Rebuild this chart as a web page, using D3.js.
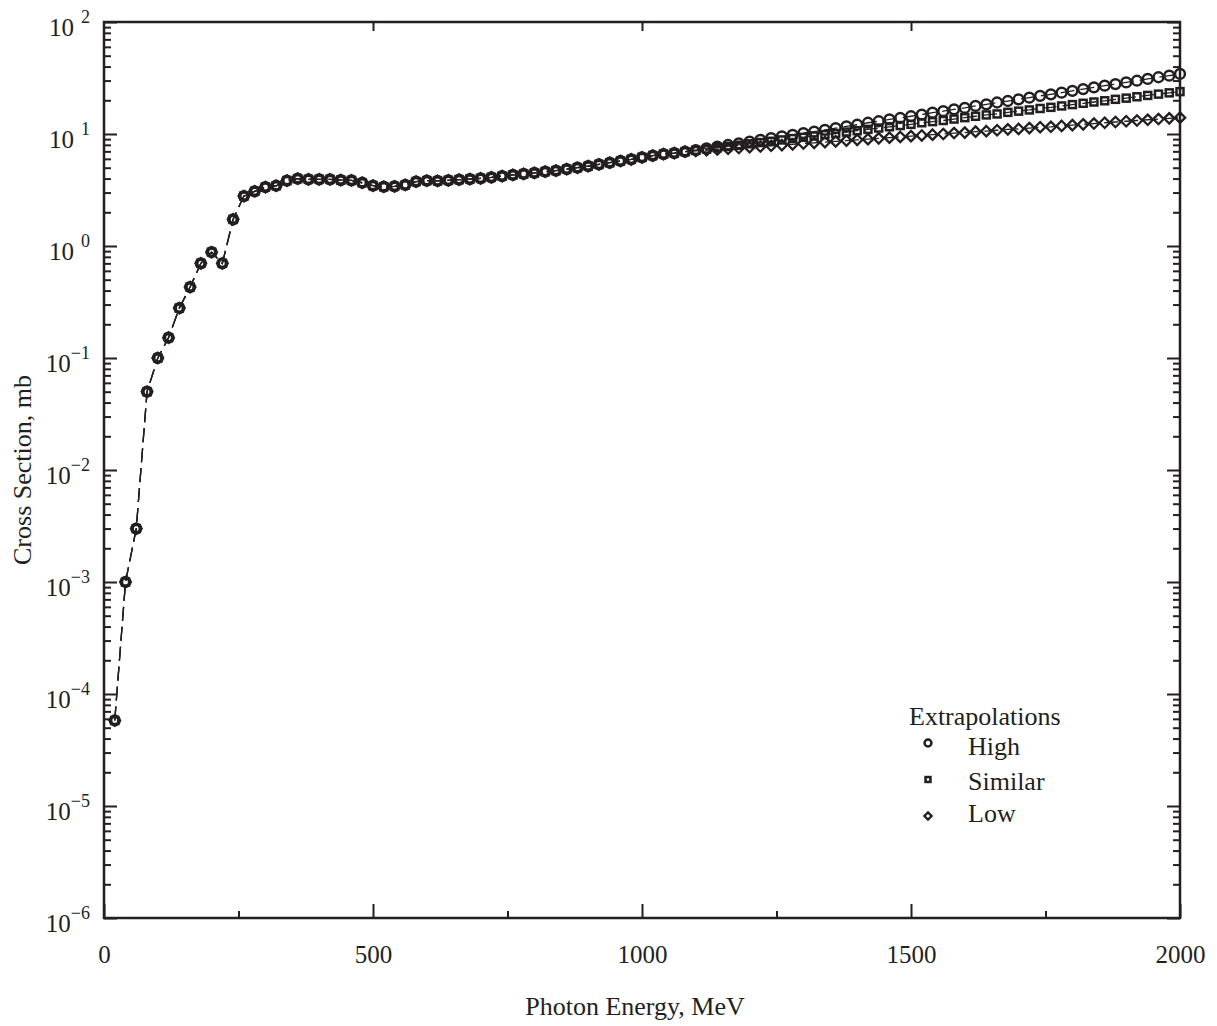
<!DOCTYPE html>
<html>
<head>
<meta charset="utf-8">
<script src="https://cdn.jsdelivr.net/npm/d3@7"></script>
<style>
  body { margin: 0; background: #fff; }
  svg { display: block; }
  svg text { font-family: "Liberation Serif", "Times New Roman", serif; }
  .tick line { stroke: #231f20; stroke-width: 2; }
</style>
</head>
<body>
<div id="chart"></div>
<script>
// photon energy grid, MeV
const energies = [
  20, 40, 60, 80, 100, 120, 140, 160, 180, 200,
  220, 240, 260, 280, 300, 320, 340, 360, 380, 400,
  420, 440, 460, 480, 500, 520, 540, 560, 580, 600,
  620, 640, 660, 680, 700, 720, 740, 760, 780, 800,
  820, 840, 860, 880, 900, 920, 940, 960, 980, 1000,
  1020, 1040, 1060, 1080, 1100, 1120, 1140, 1160, 1180, 1200,
  1220, 1240, 1260, 1280, 1300, 1320, 1340, 1360, 1380, 1400,
  1420, 1440, 1460, 1480, 1500, 1520, 1540, 1560, 1580, 1600,
  1620, 1640, 1660, 1680, 1700, 1720, 1740, 1760, 1780, 1800,
  1820, 1840, 1860, 1880, 1900, 1920, 1940, 1960, 1980, 2000,
];

// measured part, common to all extrapolations (20 - 1080 MeV), mb
const sharedValues = [
  5.8e-5, 1.0e-3, 3.0e-3, 0.050, 0.100, 0.152, 0.279, 0.43, 0.70, 0.88,
  0.70, 1.73, 2.79, 3.08, 3.36, 3.45, 3.84, 3.99, 3.94, 3.94,
  3.93, 3.88, 3.85, 3.67, 3.46, 3.38, 3.41, 3.51, 3.76, 3.83,
  3.81, 3.86, 3.91, 3.96, 4.02, 4.10, 4.21, 4.31, 4.40, 4.49,
  4.61, 4.71, 4.86, 5.00, 5.17, 5.35, 5.54, 5.74, 5.94, 6.18,
  6.42, 6.62, 6.75, 6.95,
];

// extrapolated part (1100 - 2000 MeV), mb
const highTail = [
  7.19, 7.45, 7.71, 7.98, 8.26, 8.55, 8.87, 9.18, 9.51, 9.84,
  10.2, 10.5, 10.9, 11.3, 11.7, 12.1, 12.6, 13.0, 13.5, 13.9,
  14.4, 14.9, 15.5, 16.0, 16.6, 17.1, 17.8, 18.4, 19.1, 19.7,
  20.4, 21.1, 21.9, 22.6, 23.4, 24.3, 25.2, 26.1, 27.0, 27.9,
  28.9, 29.9, 31.0, 32.1, 33.2, 34.4,
];
const similarTail = [
  7.14, 7.33, 7.54, 7.74, 7.94, 8.17, 8.39, 8.61, 8.85, 9.10,
  9.34, 9.59, 9.86, 10.1, 10.4, 10.7, 11.0, 11.3, 11.6, 11.9,
  12.2, 12.6, 12.9, 13.2, 13.6, 14.0, 14.4, 14.8, 15.1, 15.6,
  16.0, 16.4, 16.9, 17.3, 17.8, 18.3, 18.8, 19.3, 19.8, 20.4,
  20.9, 21.5, 22.1, 22.7, 23.3, 23.9,
];
const lowTail = [
  7.06, 7.16, 7.28, 7.38, 7.50, 7.62, 7.73, 7.85, 7.96, 8.09,
  8.22, 8.34, 8.47, 8.59, 8.73, 8.87, 8.99, 9.14, 9.27, 9.42,
  9.57, 9.70, 9.86, 10.0, 10.2, 10.3, 10.5, 10.6, 10.8, 11.0,
  11.1, 11.3, 11.5, 11.6, 11.8, 12.0, 12.2, 12.4, 12.6, 12.8,
  13.0, 13.2, 13.4, 13.6, 13.8, 14.0,
];

const seriesNames = ["High", "Similar", "Low"];
const seriesShapes = ["circle", "square", "diamond"];

const xMajorTicks = [0, 500, 1000, 1500, 2000];
const xMinorTicks = [250, 750, 1250, 1750];
const yExponents = [-6, -5, -4, -3, -2, -1, 0, 1, 2];

const ink = "#231f20";
const serif = '"Liberation Serif", "Times New Roman", serif';
const W = 1217, H = 1026;
const plotLeft = 104, plotRight = 1180, plotTop = 22, plotBottom = 918;

const svg = d3
  .select("#chart")
  .append("svg")
  .attr("width", W)
  .attr("height", H);

svg.append("rect").attr("width", W).attr("height", H).attr("fill", "#fff");

const x = d3.scaleLinear().domain([0, 2000]).range([plotLeft, plotRight]);
const y = d3.scaleLog().domain([1e-6, 1e2]).range([plotBottom, plotTop]);

const yMajor = yExponents.map((k) => Math.pow(10, k));
const yMinor = [];
yExponents.slice(0, -1).forEach((k) => {
  for (let m = 2; m <= 9; m++) yMinor.push(m * Math.pow(10, k));
});

// ----- axes (ticks point inward) -----
function cleanAxis(g) {
  g.attr("font-family", serif).attr("font-size", null);
  g.select(".domain").remove();
  g.selectAll(".tick line").attr("stroke", ink);
}

svg
  .append("g")
  .attr("transform", `translate(0,${plotBottom})`)
  .call(d3.axisBottom(x).tickValues(xMajorTicks).tickSize(-14).tickPadding(27).tickFormat(d3.format("d")))
  .call(cleanAxis)
  .selectAll("text")
  .attr("fill", ink)
  .style("font-size", "25px");

svg
  .append("g")
  .attr("transform", `translate(0,${plotBottom})`)
  .call(d3.axisBottom(x).tickValues(xMinorTicks).tickSize(-7).tickFormat(""))
  .call(cleanAxis);

svg
  .append("g")
  .attr("transform", `translate(0,${plotTop})`)
  .call(d3.axisTop(x).tickValues(xMajorTicks.slice(1, -1)).tickSize(-9).tickFormat(""))
  .call(cleanAxis);

const yLeft = svg
  .append("g")
  .attr("transform", `translate(${plotLeft},0)`)
  .call(d3.axisLeft(y).tickValues(yMajor).tickSize(-13).tickFormat(""))
  .call(cleanAxis);

svg
  .append("g")
  .attr("transform", `translate(${plotLeft},0)`)
  .call(d3.axisLeft(y).tickValues(yMinor).tickSize(-7).tickFormat(""))
  .call(cleanAxis);

svg
  .append("g")
  .attr("transform", `translate(${plotRight},0)`)
  .call(d3.axisRight(y).tickValues(yMajor).tickSize(-13).tickFormat(""))
  .call(cleanAxis);

svg
  .append("g")
  .attr("transform", `translate(${plotRight},0)`)
  .call(d3.axisRight(y).tickValues(yMinor).tickSize(-7).tickFormat(""))
  .call(cleanAxis);

// power-of-ten labels, "10" with a raised exponent
yLeft.selectAll(".tick").each(function (d) {
  const k = Math.round(Math.log10(d));
  const t = d3
    .select(this)
    .append("text")
    .attr("x", -(plotLeft - 90))
    .attr("y", 13)
    .attr("text-anchor", "end")
    .attr("fill", ink)
    .style("font-size", "25px");
  t.append("tspan").text("10");
  t.append("tspan")
    .attr("dx", k >= 0 ? 7 : 0)
    .attr("dy", -13)
    .style("font-size", "18px")
    .text(k < 0 ? "\u2212" + Math.abs(k) : String(k));
});

// frame
svg
  .append("rect")
  .attr("x", plotLeft)
  .attr("y", plotTop)
  .attr("width", plotRight - plotLeft)
  .attr("height", plotBottom - plotTop)
  .attr("fill", "none")
  .attr("stroke", ink)
  .attr("stroke-width", 2.5);

// axis titles
svg
  .append("text")
  .attr("x", 635)
  .attr("y", 1015)
  .attr("text-anchor", "middle")
  .attr("fill", ink)
  .style("font-size", "26px")
  .text("Photon Energy, MeV");

svg
  .append("text")
  .attr("transform", `translate(31,${(plotTop + plotBottom) / 2}) rotate(-90)`)
  .attr("text-anchor", "middle")
  .attr("fill", ink)
  .style("font-size", "26px")
  .text("Cross Section, mb");

// ----- series -----
const tails = [highTail, similarTail, lowTail];
const series = seriesNames.map((name, i) => ({
  name: name,
  shape: seriesShapes[i],
  points: sharedValues.concat(tails[i]).map((v, j) => ({ e: energies[j], v: v })),
}));

const line = d3
  .line()
  .x((d) => x(d.e))
  .y((d) => y(d.v));

// draw Low first so High sits on top
const drawOrder = series.slice().reverse();

svg
  .selectAll("path.curve")
  .data(drawOrder)
  .enter()
  .append("path")
  .attr("class", "curve")
  .attr("d", (d) => line(d.points))
  .attr("fill", "none")
  .attr("stroke", ink)
  .attr("stroke-width", 1.3)
  .attr("stroke-dasharray", "14,6");

function addMarker(g, shape, cx, cy, scale) {
  if (shape === "circle") {
    g.append("circle")
      .attr("cx", cx)
      .attr("cy", cy)
      .attr("r", 4.9 * scale)
      .attr("fill", "none")
      .attr("stroke", ink)
      .attr("stroke-width", 2.5);
  } else if (shape === "square") {
    const s = 7 * scale;
    g.append("rect")
      .attr("x", cx - s / 2)
      .attr("y", cy - s / 2)
      .attr("width", s)
      .attr("height", s)
      .attr("fill", "none")
      .attr("stroke", ink)
      .attr("stroke-width", 2.5);
  } else {
    const r = 5.2 * scale;
    g.append("path")
      .attr("d", `M${cx},${cy - r}L${cx + r},${cy}L${cx},${cy + r}L${cx - r},${cy}Z`)
      .attr("fill", "none")
      .attr("stroke", ink)
      .attr("stroke-width", 2.3);
  }
}

drawOrder.forEach((s) => {
  const g = svg.append("g").attr("class", "markers-" + s.name);
  s.points.forEach((p) => addMarker(g, s.shape, x(p.e), y(p.v), 1));
});

// ----- legend -----
const legend = svg.append("g").attr("fill", ink).style("font-size", "26px");

legend.append("text").attr("x", 909).attr("y", 725).text("Extrapolations");

const legendRowsY = [743, 779.5, 816];
const legendTextY = [755, 790, 822];

series.forEach((s, i) => {
  addMarker(legend, s.shape, 928, legendRowsY[i], 0.7);
  legend.append("text").attr("x", 968).attr("y", legendTextY[i]).text(s.name);
});
</script>
</body>
</html>
